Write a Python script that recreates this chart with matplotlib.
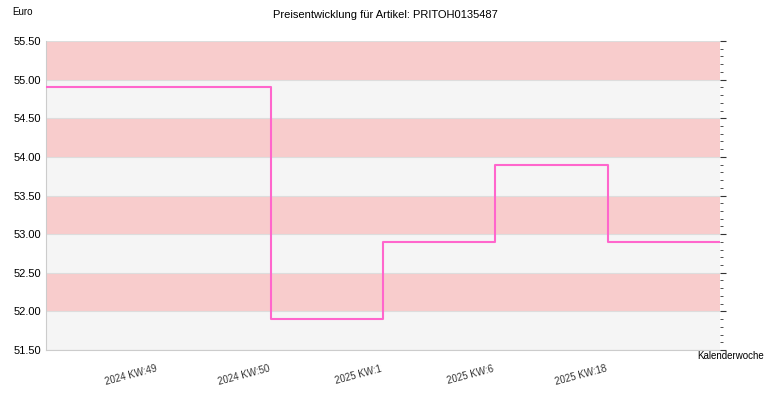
import numpy as np
import matplotlib.pyplot as plt
from matplotlib.ticker import MultipleLocator

weeks = ['2024 KW:49', '2024 KW:50', '2025 KW:1', '2025 KW:6', '2025 KW:18']
prices = [54.9, 51.9, 52.9, 53.9, 52.9]

plt.rcParams['font.family'] = ['Liberation Sans', 'DejaVu Sans']
fig = plt.figure(figsize=(7.7, 4.0), dpi=100)
ax = fig.add_axes([46/770, 50/400, 674/770, 309/400])

ymin, ymax = 51.5, 55.5
ax.set_ylim(ymin, ymax)
ax.set_xlim(0, len(weeks) + 1)

# alternating bands
for i, lo in enumerate(np.arange(ymin, ymax, 0.5)):
    col = '#f5f5f5' if i % 2 == 0 else '#f8cccc'
    ax.axhspan(lo, lo + 0.5, color=col, lw=0, zorder=0)
for y in np.arange(ymin, ymax + 0.01, 0.5):
    ax.axhline(y, color='#dddddd', lw=0.8, zorder=1)

xs = [0] + list(range(1, len(weeks) + 1)) + [len(weeks) + 1]
ys = [prices[0]] + prices + [prices[-1]]
ax.step(xs, ys, where='post', color='#ff66cc', lw=1.5, zorder=3)

ax.set_xticks(range(1, len(weeks) + 1))
ax.set_xticklabels(weeks, rotation=15, ha='right', fontsize=7, color='#333333')
ax.tick_params(axis='x', length=0, pad=10)
ax.yaxis.set_major_locator(MultipleLocator(0.5))
ax.yaxis.set_major_formatter(plt.FormatStrFormatter('%.2f'))
ax.tick_params(axis='y', labelsize=8, length=0)

for s in ['top', 'right']:
    ax.spines[s].set_visible(False)
ax.spines['left'].set_color('#cccccc')
ax.spines['bottom'].set_color('#cccccc')

# right side dashes
ax2 = ax.twinx()
ax2.set_ylim(ymin, ymax)
ax2.yaxis.set_major_locator(MultipleLocator(0.5))
ax2.yaxis.set_minor_locator(MultipleLocator(0.1))
ax2.tick_params(axis='y', which='major', length=4, labelright=False, color='#333333')
ax2.tick_params(axis='y', which='minor', length=2, color='#333333')
for s in ax2.spines.values():
    s.set_visible(False)

fig.text(0.5, 0.975, 'Preisentwicklung für Artikel: PRITOH0135487', ha='center', va='top', fontsize=8)
fig.text(12/770, 1 - 12/400, 'Euro', ha='left', va='center', fontsize=7)
fig.text(764/770, 1 - 356/400, 'Kalenderwoche', ha='right', va='center', fontsize=7)

fig.savefig('out.png', dpi=100)
